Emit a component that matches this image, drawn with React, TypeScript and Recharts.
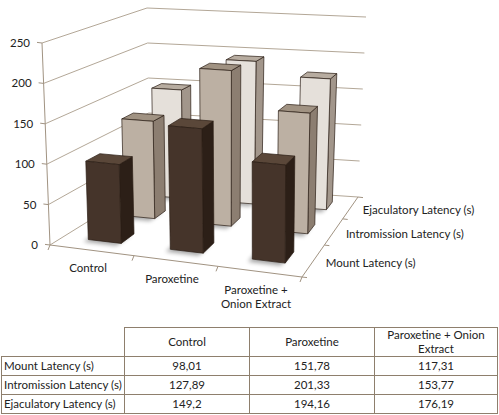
import React from "react";
import { ComposedChart, Bar, XAxis, YAxis, CartesianGrid, Customized } from "recharts";

// chart values
const categories = ["Control", "Paroxetine", "Paroxetine + Onion Extract"];
const seriesNames = ["Mount Latency (s)", "Intromission Latency (s)", "Ejaculatory Latency (s)"];
const mountLatency = [98.01, 151.78, 117.31];
const intromissionLatency = [127.89, 201.33, 153.77];
const ejaculatoryLatency = [149.2, 194.16, 176.19];
const yTicks = [0, 50, 100, 150, 200, 250];

const data = categories.map((name, i) => ({
  name,
  mount: mountLatency[i],
  intromission: intromissionLatency[i],
  ejaculatory: ejaculatoryLatency[i],
}));

// flat layout of the chart (front plane), used to normalise library coordinates
const W = 499;
const H = 320;
const MARGIN = { top: 10, right: 10, bottom: 10, left: 10 };
const Y_W = 30;
const X_H = 20;
const L = MARGIN.left + Y_W;
const R = W - MARGIN.right;
const T = MARGIN.top;
const B = H - MARGIN.bottom - X_H;

// corners of the 3D box on screen: F/B = front/back, L/R = left/right, B/T = bottom/top
const C = {
  FLB: [50, 245], FRB: [302, 277], BLB: [150, 183], BRB: [358, 197],
  FLT: [42, 43], FRT: [303, 62], BLT: [147, 8], BRT: [366, 17],
};

const lerp = (a: number[], b: number[], t: number) => [a[0] + (b[0] - a[0]) * t, a[1] + (b[1] - a[1]) * t];

// u: along categories, d: depth (0 front), v: value fraction
function P(u: number, d: number, v: number) {
  const bot = lerp(lerp(C.FLB, C.FRB, u), lerp(C.BLB, C.BRB, u), d);
  const top = lerp(lerp(C.FLT, C.FRT, u), lerp(C.BLT, C.BRT, u), d);
  return lerp(bot, top, v);
}

// perspective squeeze along depth
const K = 0.33;
const depth = (t: number) => (t * (1 + K)) / (1 + K * t);

const toU = (x: number) => (x - L) / (R - L);
const toV = (y: number) => (B - y) / (B - T);
const pts = (arr: number[][]) => arr.map((p) => p[0].toFixed(1) + "," + p[1].toFixed(1)).join(" ");

const GRID = "#b3a797";
const AXIS = "#a19382";
const TEXT = "#222";
const FONT = "Lato, 'Open Sans', sans-serif";

const rowColors = [
  { front: "#45342a", side: "#2c1f17", top: "#5a4739" },
  { front: "#bcb0a3", side: "#8c7e71", top: "#a09282" },
  { front: "#e5e0da", side: "#a2968b", top: "#b7aca0" },
];

function Box3D(props: any) {
  const { x, y, width, height, row } = props;
  if (!width || height == null) return null;
  const u0 = toU(x);
  const u1 = toU(x + width);
  const vt = toV(y);
  const vb = toV(y + height);
  const d0 = depth((row + 0.32) / 3);
  const d1 = depth((row + 0.68) / 3);
  const col = rowColors[row];
  const front = [P(u0, d0, vb), P(u1, d0, vb), P(u1, d0, vt), P(u0, d0, vt)];
  const side = [P(u1, d0, vb), P(u1, d1, vb), P(u1, d1, vt), P(u1, d0, vt)];
  const top = [P(u0, d0, vt), P(u1, d0, vt), P(u1, d1, vt), P(u0, d1, vt)];
  const foot = [P(u0, d0 - 0.02, 0), P(u1, d0 - 0.02, 0), P(u1, d1, 0), P(u0, d1, 0)].map((p) => [p[0] - 3, p[1] + 1]);
  return (
    <g>
      <polygon points={pts(foot)} fill="#000" opacity={0.35} filter="url(#barShadow)" />
      <polygon points={pts(side)} fill={col.side} stroke="#2a1d14" strokeWidth={0.7} strokeLinejoin="round" />
      <polygon points={pts(top)} fill={col.top} stroke="#2a1d14" strokeWidth={0.7} strokeLinejoin="round" />
      <polygon points={pts(front)} fill={col.front} stroke="#2a1d14" strokeWidth={0.7} strokeLinejoin="round" />
    </g>
  );
}

function GridLine(props: any) {
  const v = toV(props.y1);
  const a = P(0, 0, v);
  const b = P(0, 1, v);
  const c = P(1, 1, v);
  return <polyline key={props.key ?? props.index} points={pts([a, b, c])} fill="none" stroke={GRID} strokeWidth={1} />;
}

function YTick(props: any) {
  const { y, payload } = props;
  const p = P(0, 0, toV(y));
  return (
    <g>
      <line x1={p[0]} y1={p[1]} x2={p[0] - 5} y2={p[1] - 0.6} stroke={AXIS} />
      <text x={p[0] - 12} y={p[1] + 4} textAnchor="end" fontSize={11.5} fontFamily={FONT} fill={TEXT}>
        {payload.value}
      </text>
    </g>
  );
}

function XTick(props: any) {
  const { x, payload } = props;
  const p = P(toU(x), 0, 0);
  const label = String(payload.value);
  const lines = label.length > 14 ? label.replace(" + ", " +\n").split("\n") : [label];
  return (
    <text x={p[0] - 4} y={p[1] + 22} textAnchor="middle" fontSize={11.5} fontFamily={FONT} fill={TEXT}>
      {lines.map((ln, i) => (
        <tspan key={i} x={p[0] - 4} dy={i === 0 ? 0 : 14}>
          {ln}
        </tspan>
      ))}
    </text>
  );
}

function Frame() {
  const n = categories.length;
  const catTicks = [];
  for (let i = 0; i <= n; i++) {
    const p = P(i / n, 0, 0);
    catTicks.push(<line key={"c" + i} x1={p[0]} y1={p[1]} x2={p[0] - 2} y2={p[1] + 5} stroke={AXIS} />);
  }
  const depthTicks = [];
  for (let i = 0; i <= seriesNames.length; i++) {
    const p = P(1, depth(i / seriesNames.length), 0);
    depthTicks.push(<line key={"d" + i} x1={p[0]} y1={p[1]} x2={p[0] + 5} y2={p[1] + 0.6} stroke={AXIS} />);
  }
  return (
    <g>
      <defs>
        <filter id="barShadow" x="-50%" y="-50%" width="200%" height="200%">
          <feGaussianBlur stdDeviation={2} />
        </filter>
      </defs>
      <polyline points={pts([P(0, 0, 1), P(0, 0, 0), P(1, 0, 0), P(1, 1, 0)])} fill="none" stroke={AXIS} strokeWidth={1} />
      {catTicks}
      {depthTicks}
      {seriesNames.map((s, i) => {
        const p = P(1, depth((i + 0.5) / seriesNames.length), 0);
        return (
          <text key={s} x={p[0] + 12} y={p[1] + 7} fontSize={11.5} fontFamily={FONT} fill={TEXT}>
            {s}
          </text>
        );
      })}
    </g>
  );
}

const fmt = (v: number) => String(v).replace(".", ",");
const tableRows = [mountLatency, intromissionLatency, ejaculatoryLatency];
const BORDER = "1px solid #8e7f6d";

export default function App() {
  const cell: React.CSSProperties = { border: BORDER, padding: "0 2px", textAlign: "center" };
  return (
    <div style={{ position: "absolute", left: 0, top: 0, width: W, height: 415, background: "#fff" }}>
      <ComposedChart width={W} height={H} data={data} margin={MARGIN} barCategoryGap="30%">
        <CartesianGrid horizontal={GridLine} vertical={false} />
        <XAxis dataKey="name" xAxisId={0} height={X_H} axisLine={false} tickLine={false} interval={0} tick={XTick} />
        <XAxis dataKey="name" xAxisId={1} hide />
        <XAxis dataKey="name" xAxisId={2} hide />
        <YAxis domain={[0, 250]} ticks={yTicks} width={Y_W} axisLine={false} tickLine={false} tick={YTick} />
        <Customized component={<Frame />} />
        <Bar dataKey="ejaculatory" xAxisId={2} isAnimationActive={false} shape={(p: any) => <Box3D {...p} row={2} />} />
        <Bar dataKey="intromission" xAxisId={1} isAnimationActive={false} shape={(p: any) => <Box3D {...p} row={1} />} />
        <Bar dataKey="mount" xAxisId={0} isAnimationActive={false} shape={(p: any) => <Box3D {...p} row={0} />} />
      </ComposedChart>
      <table
        style={{
          position: "absolute",
          left: 1,
          top: 327,
          width: 496,
          borderCollapse: "collapse",
          tableLayout: "fixed",
          fontFamily: FONT,
          fontSize: 11.5,
          color: TEXT,
          lineHeight: "14px",
        }}
      >
        <colgroup>
          <col style={{ width: 123 }} />
          <col style={{ width: 125 }} />
          <col style={{ width: 125 }} />
          <col style={{ width: 123 }} />
        </colgroup>
        <tbody>
          <tr style={{ height: 28 }}>
            <td style={{ borderRight: BORDER, borderBottom: BORDER }} />
            {categories.map((c) => (
              <td key={c} style={cell}>
                {c}
              </td>
            ))}
          </tr>
          {seriesNames.map((s, r) => (
            <tr key={s} style={{ height: 19 }}>
              <td style={{ ...cell, textAlign: "left", whiteSpace: "nowrap" }}>{s}</td>
              {tableRows[r].map((v, i) => (
                <td key={i} style={cell}>
                  {fmt(v)}
                </td>
              ))}
            </tr>
          ))}
        </tbody>
      </table>
    </div>
  );
}
